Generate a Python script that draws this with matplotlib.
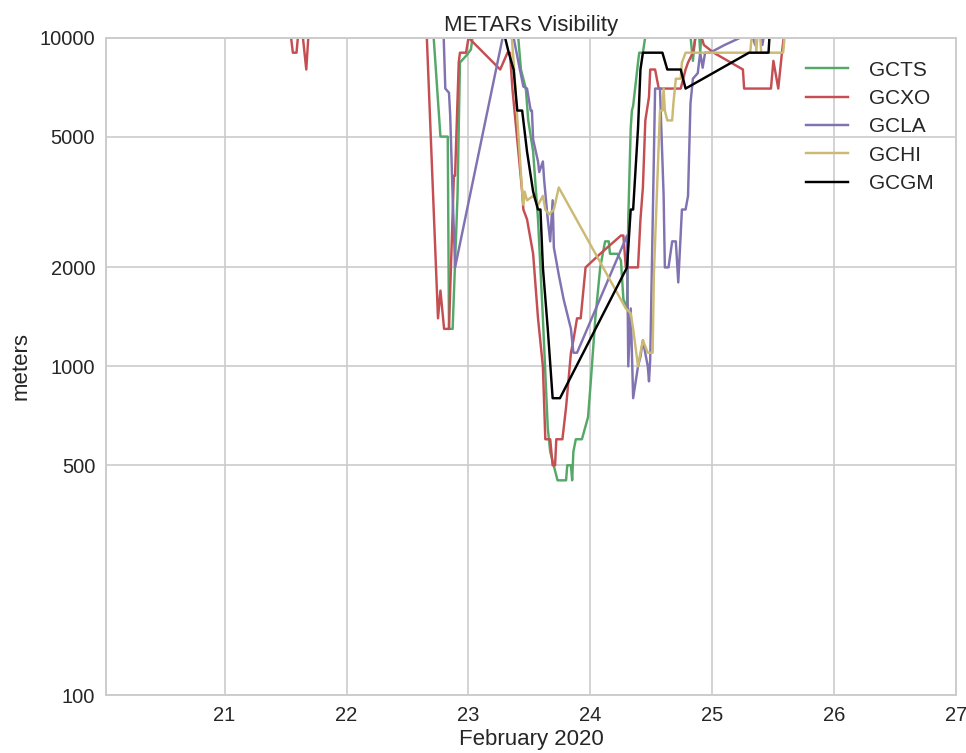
import numpy as np
import matplotlib.pyplot as plt
from matplotlib.ticker import FixedLocator, FixedFormatter, NullLocator

# time in days of February 2020, visibility in meters (values above 10000 run off the top)
gcts_t = [20.2, 22.70, 22.77, 22.83, 22.84, 22.87, 22.91, 22.93, 22.98, 23.02, 23.06, 23.39,
          23.43, 23.47, 23.49, 23.53, 23.57, 23.61, 23.65, 23.67, 23.73, 23.80, 23.81, 23.84,
          23.85, 23.86, 23.88, 23.93, 23.98, 24.00, 24.04, 24.08, 24.12, 24.15, 24.16, 24.22,
          24.25, 24.27, 24.30, 24.31, 24.33, 24.34, 24.35, 24.39, 24.40, 24.43, 24.48, 24.80,
          24.84, 24.88, 24.90, 24.92, 25.64]
gcts_v = [12000, 12000, 5000, 5000, 1300, 1300, 3300, 8400, 8800, 9200, 12000, 12000,
          8000, 7000, 5600, 4500, 2800, 1400, 650, 550, 450, 450, 500, 500,
          450, 550, 600, 600, 700, 870, 1400, 2000, 2400, 2400, 2200, 2200,
          2100, 1600, 1500, 2800, 5300, 6000, 6200, 8400, 9000, 9000, 12000, 12000,
          8500, 12000, 9000, 12000, 12000]

gcxo_t = [20.2, 21.52, 21.56, 21.59, 21.62, 21.67, 21.70, 22.65, 22.75, 22.77, 22.80, 22.84,
          22.88, 22.89, 22.92, 22.93, 22.98, 23.00, 23.26, 23.32, 23.34, 23.36, 23.44, 23.45,
          23.48, 23.53, 23.57, 23.61, 23.63, 23.67, 23.69, 23.71, 23.72, 23.77, 23.80, 23.84,
          23.86, 23.89, 23.92, 23.96, 24.08, 24.25, 24.27, 24.29, 24.39, 24.41, 24.43, 24.45,
          24.48, 24.49, 24.53, 24.56, 24.74, 24.78, 24.80, 24.84, 24.88, 24.93, 25.01, 25.25,
          25.26, 25.48, 25.50, 25.54, 25.57, 25.61, 25.64]
gcxo_v = [12000, 12000, 9000, 9000, 12000, 8000, 12000, 12000, 1400, 1700, 1300, 1300,
          3800, 3800, 8400, 9000, 9000, 10000, 8000, 9000, 9000, 7000, 3400, 3000,
          2800, 2200, 1400, 1000, 600, 600, 500, 500, 600, 600, 750, 1100,
          1200, 1400, 1400, 2000, 2200, 2500, 2500, 2000, 2000, 2800, 3500, 5600,
          6600, 8000, 8000, 7000, 7000, 8000, 8400, 9000, 11000, 9500, 9000, 8000,
          7000, 7000, 8500, 7000, 9000, 12000, 12000]

gcla_t = [20.2, 22.79, 22.81, 22.84, 22.85, 22.87, 22.88, 22.89, 23.28, 23.32, 23.37, 23.41,
          23.45, 23.48, 23.51, 23.52, 23.53, 23.57, 23.58, 23.61, 23.62, 23.65, 23.67, 23.69,
          23.70, 23.74, 23.78, 23.84, 23.86, 23.89, 24.30, 24.31, 24.33, 24.35, 24.39, 24.41,
          24.43, 24.47, 24.48, 24.49, 24.53, 24.57, 24.60, 24.61, 24.64, 24.67, 24.70, 24.72,
          24.75, 24.78, 24.80, 24.82, 24.84, 24.88, 24.89, 24.90, 24.92, 24.94, 24.98, 25.10,
          25.23, 25.30, 25.35, 25.38, 25.41, 25.45, 25.64]
gcla_v = [12000, 12000, 7000, 6800, 5800, 3300, 2600, 2000, 10000, 11000, 10000, 8400,
          7100, 7000, 6000, 6000, 4900, 4200, 3900, 4200, 3700, 2800, 2400, 3200,
          2300, 1900, 1600, 1300, 1100, 1100, 2500, 1000, 1500, 800, 1000, 1070,
          1200, 1000, 900, 1050, 7000, 7000, 3300, 2000, 2000, 2400, 2400, 1800,
          3000, 3000, 3300, 6300, 7500, 7800, 8400, 9000, 8100, 9000, 9000, 9500,
          10000, 11000, 9500, 12000, 9500, 12000, 12000]

gchi_t = [20.2, 23.34, 23.37, 23.41, 23.44, 23.45, 23.46, 23.48, 23.53, 23.57, 23.61, 23.63,
          23.66, 23.70, 23.74, 24.29, 24.33, 24.35, 24.39, 24.41, 24.43, 24.47, 24.51, 24.52,
          24.57, 24.59, 24.60, 24.61, 24.63, 24.67, 24.68, 24.70, 24.74, 24.75, 24.78, 25.31,
          25.34, 25.36, 25.38, 25.40, 25.43, 25.58, 25.61, 25.64]
gchi_v = [12000, 12000, 8400, 5000, 3400, 3100, 3400, 3200, 3300, 3100, 3300, 3000,
          2900, 3000, 3500, 1500, 1450, 1300, 1000, 1100, 1200, 1100, 1100, 1900,
          6000, 6000, 7000, 6000, 5600, 5600, 6300, 7500, 7500, 8400, 9000, 9000,
          12000, 9000, 12000, 9000, 9000, 9000, 12000, 12000]

gcgm_t = [20.2, 23.27, 23.30, 23.33, 23.37, 23.40, 23.44, 23.48, 23.53, 23.57, 23.59, 23.61,
          23.65, 23.69, 23.75, 24.30, 24.33, 24.35, 24.39, 24.41, 24.43, 24.59, 24.63, 24.74,
          24.78, 25.30, 25.46, 25.48, 25.64]
gcgm_v = [12000, 12000, 10000, 9000, 8000, 6000, 6000, 4500, 3400, 3000, 3000, 2000,
          1300, 800, 800, 2000, 3000, 3000, 5300, 8000, 9000, 9000, 8000, 8000,
          7000, 9000, 9000, 12000, 12000]

stations = ['GCTS', 'GCXO', 'GCLA', 'GCHI', 'GCGM']
colors = ['#55A868', '#C44E52', '#8172B2', '#CCB974', 'k']
series = [(gcts_t, gcts_v), (gcxo_t, gcxo_v), (gcla_t, gcla_v), (gchi_t, gchi_v), (gcgm_t, gcgm_v)]

y_ticks = [100, 500, 1000, 2000, 5000, 10000]
x_ticks = [21, 22, 23, 24, 25, 26, 27]

plt.rcParams['font.family'] = ['Liberation Sans', 'DejaVu Sans']
plt.rcParams['text.color'] = '.15'
plt.rcParams['axes.labelcolor'] = '.15'
plt.rcParams['xtick.color'] = '.15'
plt.rcParams['ytick.color'] = '.15'

fig = plt.figure(figsize=(9.66, 7.53), dpi=100)
ax = fig.add_axes([0.110, 0.077, 0.880, 0.873])

for name, c, (t, v) in zip(stations, colors, series):
    ax.plot(t, v, color=c, lw=1.75, label=name)

ax.set_yscale('log')
ax.set_ylim(100, 10000)
ax.set_xlim(20.03, 27)
ax.yaxis.set_major_locator(FixedLocator(y_ticks))
ax.yaxis.set_major_formatter(FixedFormatter([str(y) for y in y_ticks]))
ax.yaxis.set_minor_locator(NullLocator())
ax.set_xticks(x_ticks)
ax.set_xticklabels([str(x) for x in x_ticks])

ax.grid(True, color='#cccccc', lw=1.2)
ax.set_axisbelow(True)
for s in ax.spines.values():
    s.set_color('#cccccc')
    s.set_linewidth(1.4)
ax.tick_params(length=0, labelsize=14.5, pad=8)

ax.set_title('METARs Visibility', fontsize=16, pad=5)
ax.set_xlabel('February 2020', fontsize=16, labelpad=3)
ax.set_ylabel('meters', fontsize=16, labelpad=6)

leg = ax.legend(loc='upper right', frameon=False, fontsize=15, labelspacing=0.45,
                handlelength=2.0, handletextpad=1.0, borderaxespad=0.7)

fig.savefig('out.png', dpi=100)
